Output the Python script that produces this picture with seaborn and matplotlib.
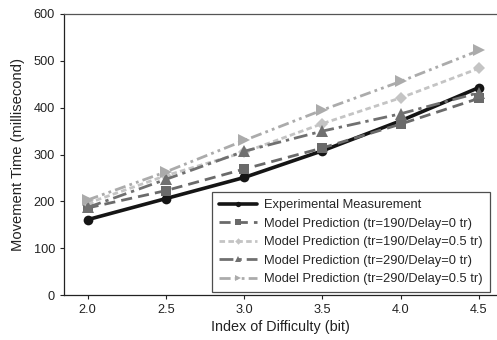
import pandas as pd
import matplotlib
matplotlib.use("Agg")
import matplotlib.pyplot as plt
import seaborn as sns

# Index of difficulty (bit)
difficulty = [2.0, 2.5, 3.0, 3.5, 4.0, 4.5]

# Movement time (millisecond)
experimental = [161, 206, 251, 308, 372, 443]
tr190_d0 = [186, 223, 269, 314, 365, 420]
tr190_d05 = [196, 255, 305, 366, 421, 484]
tr290_d0 = [187, 247, 307, 350, 387, 432]
tr290_d05 = [203, 263, 330, 395, 456, 522]

series_names = [
    "Experimental Measurement",
    "Model Prediction (tr=190/Delay=0 tr)",
    "Model Prediction (tr=190/Delay=0.5 tr)",
    "Model Prediction (tr=290/Delay=0 tr)",
    "Model Prediction (tr=290/Delay=0.5 tr)",
]
y_ticks = [0, 100, 200, 300, 400, 500, 600]
x_ticks = [2.0, 2.5, 3.0, 3.5, 4.0, 4.5]

sns.set_style("ticks")
plt.rcParams["font.family"] = ["Liberation Sans", "DejaVu Sans"]

fig = plt.figure(figsize=(4.97, 3.40), dpi=100)
ax = fig.add_axes([0.129, 0.132, 0.871, 0.827])

styles = [
    dict(color="#151515", marker="o", ms=7, lw=2.6, ls="-"),
    dict(color="#6a6a6a", marker="s", ms=7, lw=2.0, ls=(0, (4, 2.2))),
    dict(color="#c4c4c4", marker="D", ms=6, lw=2.0, ls=(0, (2, 1.2))),
    dict(color="#707070", marker="^", ms=8, lw=2.0, ls=(0, (5, 1.8, 1.2, 1.8))),
    dict(color="#ababab", marker=">", ms=8, lw=2.0, ls=(0, (4, 1.5, 1, 1.5, 1, 1.5))),
]
all_values = [experimental, tr190_d0, tr190_d05, tr290_d0, tr290_d05]

for name, vals, st in zip(series_names, all_values, styles):
    df = pd.DataFrame({"ID": difficulty, "MT": vals})
    sns.lineplot(data=df, x="ID", y="MT", ax=ax, label=name,
                 color=st["color"], marker=st["marker"], markersize=st["ms"],
                 linewidth=st["lw"], linestyle=st["ls"], markeredgewidth=0)

ax.set_xlim(1.85, 4.615)
ax.set_ylim(0, 600)
ax.set_xticks(x_ticks)
ax.set_xticklabels([f"{t:.1f}" for t in x_ticks])
ax.set_yticks(y_ticks)
ax.tick_params(labelsize=9.2, length=3, width=0.8, colors="#222222")
ax.set_xlabel("Index of Difficulty (bit)", fontsize=10.4, color="#222222", labelpad=3)
ax.set_ylabel("Movement Time (millisecond)", fontsize=10.6, color="#222222", labelpad=6)
for s in ["left", "bottom"]:
    ax.spines[s].set_color("#222222")
    ax.spines[s].set_linewidth(0.9)
ax.spines["top"].set_color("#555555")
ax.spines["top"].set_linewidth(0.9)
ax.spines["right"].set_visible(False)

leg = ax.legend(loc="upper left", fontsize=9.3, frameon=True, fancybox=False,
                handlelength=2.9, handletextpad=0.6, borderpad=0.55,
                labelspacing=0.5, markerscale=0.55, borderaxespad=0,
                bbox_to_anchor=(212 / 497, 1 - 192 / 340),
                bbox_transform=fig.transFigure)
leg.get_frame().set_edgecolor("#222222")
leg.get_frame().set_linewidth(0.9)

fig.savefig("out.png", dpi=100)
